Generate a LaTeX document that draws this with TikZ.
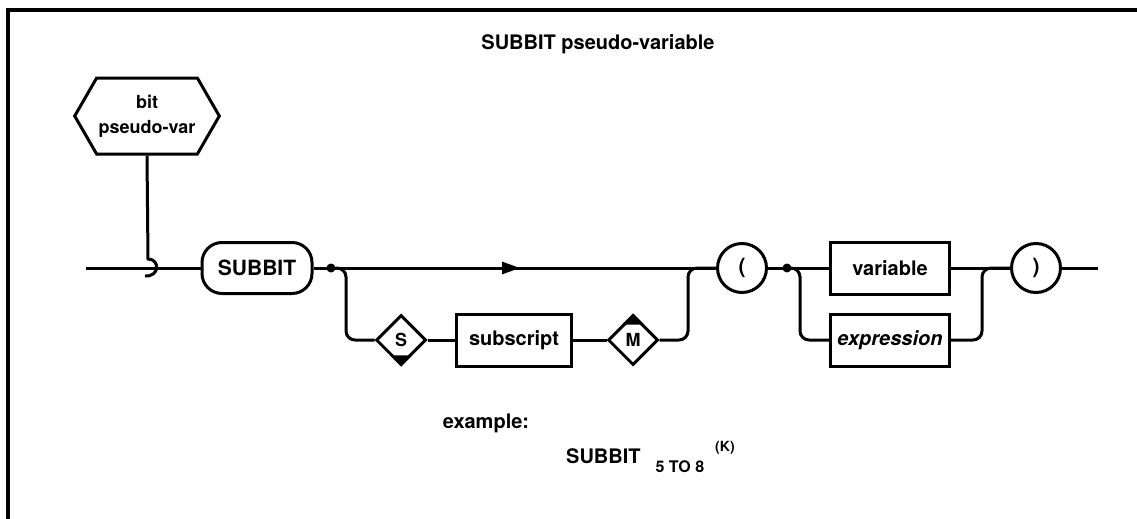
\documentclass[tikz,border=0pt]{standalone}
\usepackage{fontspec}
\setmainfont{TeX Gyre Heros}
\usetikzlibrary{shapes.geometric,shapes.symbols,arrows.meta,calc,positioning}
\tikzset{
  line/.style={line width=3pt},
  boxfont/.style={font=\fontsize{20}{24}\selectfont\bfseries},
  keyword/.style={draw,line width=3pt,rounded corners=20pt,minimum width=110pt,
    minimum height=51pt,font=\fontsize{21}{25}\selectfont\bfseries},
  syntaxbox/.style={draw,line width=3pt,minimum width=119pt,minimum height=52pt,boxfont},
  parenbox/.style={draw,circle,line width=3pt,minimum size=49pt,inner sep=0pt,
    font=\fontsize{21}{25}\selectfont\bfseries},
  switchbox/.style={draw,diamond,line width=3pt,minimum width=50pt,minimum height=50pt,
    inner sep=0pt,font=\fontsize{18}{21}\selectfont\bfseries},
  entrybox/.style={draw,signal,signal to=west and east,signal pointer angle=120,
    line width=3pt,minimum width=141pt,minimum height=76pt,inner sep=2pt,align=center,
    font=\fontsize{18}{25}\selectfont\bfseries},
  junction/.style={circle,fill,inner sep=0pt,minimum size=9pt}
}
\begin{document}
\begin{tikzpicture}[x=1pt,y=-1pt]
            \useasboundingbox (0,0) rectangle (1137,519);
            % Frame
            \draw[line width=3.4pt] (8,519) -- (8,10) -- (1137,10);
            \node[boxfont] (title) at (598,44) {SUBBIT pseudo-variable};
            % Define points
            \coordinate (start) at (86,268);
            \coordinate (hook) at (148,268);
            \coordinate (bend1) at (346,268);
            \coordinate (bend2) at (688,268);
            \coordinate (bend3) at (800,268);
            \coordinate (bend4) at (982,268);
            \coordinate (tip) at (520,268);
            \coordinate (stop) at (1098,268);
            % Boxes
            \node[entrybox] (entry) at (147,116) {bit\\pseudo-var};
            \node[keyword] (subbit) at (257,268) {SUBBIT};
            \node[junction] (j1) at (331,268) {};
            \node[switchbox] (S) at (401,340) {S};
            \node[syntaxbox, minimum width=115pt] (subscript) at (514,340) {subscript};
            \node[switchbox] (M) at (633,340) {M};
            \node[parenbox] (lpar) at (742,268) {(};
            \node[junction] (j2) at (787,268) {};
            \node[syntaxbox] (variable) at (890,268) {variable};
            \node[syntaxbox, font=\fontsize{20}{24}\selectfont\bfseries\itshape] (expression) at (890,340) {expression};
            \node[parenbox] (rpar) at (1036,268) {)};
            % Mark the switches
            \fill ($(S.south)!0.42!(S.west)$) -- (S.south) -- ($(S.south)!0.42!(S.east)$) -- cycle;
            \fill ($(M.north)!0.42!(M.west)$) -- (M.north) -- ($(M.north)!0.42!(M.east)$) -- cycle;
            % Main line
            \draw[line] (start) -- (subbit.west);
            \draw[line] (entry.south) -- ($(hook)+(0,-9)$)
              .. controls ($(hook)+(12,-9)$) and ($(hook)+(12,9)$) .. ($(hook)+(-3,8)$);
            \draw[line] (subbit.east) -- (lpar.west);
            \draw[line,-{Triangle[length=18pt,width=12pt]}] (j1) -- (tip);
            \draw[line] (lpar.east) -- (variable.west);
            \draw[line] (variable.east) -- (rpar.west);
            \draw[line] (rpar.east) -- (stop);
            % Subscript branch
            \draw[line,rounded corners=9pt] (j1) -- (bend1) |- (S.west);
            \draw[line] (S.east) -- (subscript.west);
            \draw[line] (subscript.east) -- (M.west);
            \draw[line,rounded corners=9pt] (M.east) -| (bend2) -- (lpar.west);
            % Argument branch
            \draw[line,rounded corners=9pt] (j2) -- (bend3) |- (expression.west);
            \draw[line,rounded corners=9pt] (expression.east) -| (bend4) -- (rpar.west);
            % Example
            \node[boxfont] (exlabel) at (486,423) {example:};
            \node[boxfont, anchor=base west, inner sep=0pt] (extext) at (566,463)
              {SUBBIT\hspace{15pt}\raisebox{-9pt}{\fontsize{16}{16}\selectfont 5 TO 8}\hspace{11pt}\raisebox{12pt}{\fontsize{14}{14}\selectfont (K)}};
          \end{tikzpicture}
\end{document}
